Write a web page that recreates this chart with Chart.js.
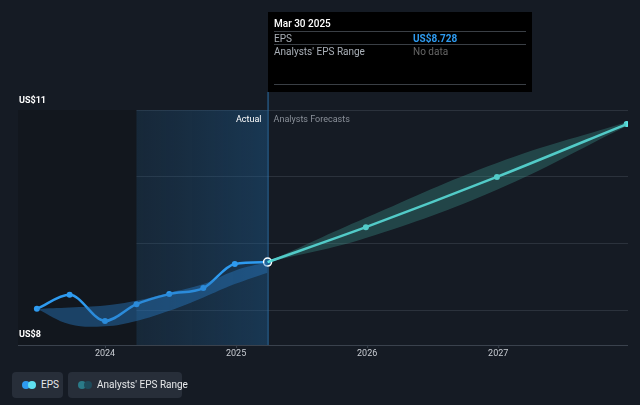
<!DOCTYPE html>
<html><head><meta charset="utf-8">
<script src="https://cdn.jsdelivr.net/npm/chart.js@4"></script>
<style>
body{margin:0;background:#151b24;font-family:Roboto,sans-serif;}
#wrap{position:relative;width:640px;height:405px;}
canvas{position:absolute;left:0;top:0;}
.leg{position:absolute;top:372px;height:26px;border-radius:4px;background:#272e39;color:#e6e8ea;font-size:10px;line-height:26px;box-sizing:border-box;padding-left:29px;white-space:nowrap;}
.dots{position:absolute;left:10px;top:9px;width:16px;height:8px;}
.dots i{position:absolute;top:0;width:8px;height:8px;border-radius:50%;}
#tip{position:absolute;left:268px;top:12px;width:264px;height:80px;background:#000;color:#fff;font-size:10px;}
#tip .row{position:absolute;left:6px;right:6px;border-top:1px solid #3a3f45;height:13px;line-height:13px;color:#aab0b8;}
</style></head><body>
<div id="wrap">
<canvas id="c" width="640" height="405"></canvas>
<div id="tip">
 <div style="position:absolute;left:6px;top:6px;font-weight:500;">Mar 30 2025</div>
 <div class="row" style="top:19px">EPS<span style="position:absolute;left:139px;color:#2e9bf0;font-weight:bold">US$8.728</span></div>
 <div class="row" style="top:32px">Analysts' EPS Range<span style="position:absolute;left:139px;color:#666">No data</span></div>
 <div class="row" style="top:72px"></div>
</div>
<div class="leg" style="left:12px;width:51px"><span class="dots"><i style="left:0;background:#2e9bf0"></i><i style="left:6px;background:#5ee0f0"></i></span>EPS</div>
<div class="leg" style="left:68px;width:114px"><span class="dots"><i style="left:0;background:#2a7a88"></i><i style="left:6px;background:#1e4a5a"></i></span>Analysts' EPS Range</div>
</div>
<script>
// actual EPS (decimal year, value)
const actualX = [2023.48, 2023.73, 2024.0, 2024.24, 2024.49, 2024.75, 2024.99, 2025.24];
const actualY = [8.03, 8.24, 7.85, 8.10, 8.25, 8.34, 8.70, 8.728];
const pastBandHigh = [8.03, 8.05, 8.08, 8.15, 8.27, 8.40, 8.60, 8.728];
const pastBandLow = [8.03, 7.80, 7.77, 7.85, 8.00, 8.20, 8.40, 8.57];
// forecast
const forecastX = [2025.24, 2025.99, 2026.99, 2027.98];
const forecastY = [8.728, 9.25, 10.0, 10.79];
const forecastHigh = [8.728, 9.39, 10.21, 10.82];
const forecastLow = [8.728, 9.09, 9.81, 10.76];
const xTicks = [2024, 2025, 2026, 2027];
const yLabels = [[11, 'US$11'], [8, 'US$8']];

const pts = (xs, ys) => xs.map((x, i) => ({x: x, y: ys[i]}));

const bg = {
  id: 'bg',
  beforeDatasetsDraw(ch) {
    const {ctx, chartArea: a, scales: {x, y}} = ch;
    const xNow = x.getPixelForValue(2025.24), xYear = x.getPixelForValue(2024.24);
    ctx.save();
    ctx.fillStyle = '#12171e';
    ctx.fillRect(a.left, a.top, xYear - a.left, a.bottom - a.top);
    const g = ctx.createLinearGradient(xYear, 0, xNow, 0);
    g.addColorStop(0, 'rgba(30,80,120,0.25)');
    g.addColorStop(1, 'rgba(30,90,140,0.45)');
    ctx.fillStyle = g;
    ctx.fillRect(xYear, a.top, xNow - xYear, a.bottom - a.top);
    ctx.strokeStyle = '#2a6fa8';
    ctx.beginPath(); ctx.moveTo(xNow + 0.5, 92); ctx.lineTo(xNow + 0.5, a.bottom); ctx.stroke();
    ctx.restore();
  },
  afterDraw(ch) {
    const {ctx, chartArea: a, scales: {x, y}} = ch;
    const xNow = x.getPixelForValue(2025.24);
    ctx.save();
    ctx.font = '9px Roboto';
    ctx.fillStyle = '#ffffff'; ctx.textAlign = 'right'; ctx.textBaseline = 'middle';
    ctx.fillText('Actual', xNow - 6, 120);
    ctx.fillStyle = '#8a9099'; ctx.textAlign = 'left';
    ctx.fillText('Analysts Forecasts', xNow + 6, 120);
    ctx.font = 'bold 9px Roboto'; ctx.fillStyle = '#ffffff';
    ctx.fillText(yLabels[0][1], 19, y.getPixelForValue(yLabels[0][0]) - 9);
    ctx.fillText(yLabels[1][1], 19, y.getPixelForValue(yLabels[1][0]) + 24);
    ctx.font = '9px Roboto'; ctx.fillStyle = '#c8ccd2'; ctx.textAlign = 'center';
    xTicks.forEach(t => {
      const px = x.getPixelForValue(t);
      ctx.fillText(String(t), px, a.bottom + 9);
      ctx.strokeStyle = '#3a424d';
      ctx.beginPath(); ctx.moveTo(px + 0.5, a.bottom); ctx.lineTo(px + 0.5, a.bottom + 3); ctx.stroke();
    });
    ctx.strokeStyle = '#3a424d';
    ctx.beginPath(); ctx.moveTo(a.left, a.bottom + 0.5); ctx.lineTo(a.right, a.bottom + 0.5); ctx.stroke();
    ctx.restore();
  }
};

new Chart(document.getElementById('c'), {
  type: 'line',
  data: {
    datasets: [
      {data: pts(actualX, pastBandHigh), borderWidth: 0, pointRadius: 0, fill: '+1', backgroundColor: 'rgba(40,120,190,0.45)', tension: 0.4},
      {data: pts(actualX, pastBandLow), borderWidth: 0, pointRadius: 0, fill: false, tension: 0.4},
      {data: pts(forecastX, forecastHigh), borderWidth: 0, pointRadius: 0, fill: '+1', backgroundColor: 'rgba(60,150,140,0.35)', tension: 0.4},
      {data: pts(forecastX, forecastLow), borderWidth: 0, pointRadius: 0, fill: false, tension: 0.4},
      {data: pts(forecastX, forecastY), borderColor: '#5ee8e8', borderWidth: 2.5, tension: 0.3,
       pointRadius: [0, 3, 3, 3], pointBackgroundColor: '#5ee8e8', pointBorderWidth: 0},
      {data: pts(actualX, actualY), borderColor: '#2e9bf0', borderWidth: 2.5, cubicInterpolationMode: 'monotone',
       pointRadius: [3, 3, 3, 3, 3, 3, 3, 4], pointBackgroundColor: ['#2e9bf0','#2e9bf0','#2e9bf0','#2e9bf0','#2e9bf0','#2e9bf0','#2e9bf0','#1d5f8f'],
       pointBorderColor: '#fff', pointBorderWidth: [0,0,0,0,0,0,0,1.5]}
    ]
  },
  options: {
    responsive: false, animation: false,
    layout: {padding: {left: 18, right: 12, top: 110, bottom: 60}},
    plugins: {legend: {display: false}, tooltip: {enabled: false}},
    scales: {
      x: {type: 'linear', min: 2023.336, max: 2027.99, display: false},
      y: {min: 7.49, max: 11, display: true, border: {display: false},
          ticks: {display: false, stepSize: 1},
          grid: {color: '#2b323c', drawTicks: false}}
    }
  },
  plugins: [bg]
});
</script>
</body></html>
